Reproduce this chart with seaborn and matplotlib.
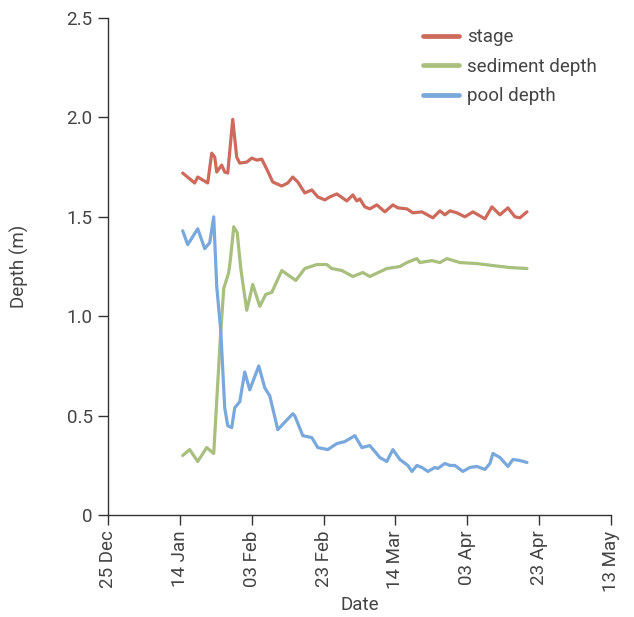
import matplotlib
matplotlib.use("Agg")
import matplotlib.pyplot as plt
import matplotlib.dates as mdates
import numpy as np
import pandas as pd
import seaborn as sns

# ---- data (days after 2016-01-14, depth in m) ----
start_date = "2016-01-14"

stage_day = [0.83, 4.17, 5.01, 7.79, 8.91, 9.74, 10.30, 11.69, 12.52, 13.36, 14.75, 15.86,
             16.70, 18.65, 20.04, 21.43, 22.82, 24.21, 25.88, 28.39, 30.06, 31.45, 32.84,
             34.79, 36.74, 38.41, 40.36, 41.75, 43.70, 46.48, 48.15, 49.26, 50.10, 51.49,
             52.88, 54.83, 57.06, 59.28, 60.67, 63.18, 64.85, 67.35, 70.41, 72.36, 73.75,
             75.15, 77.10, 79.32, 81.55, 84.89, 86.84, 89.06, 91.29, 93.24, 94.63, 96.58]
stage = [1.72, 1.67, 1.70, 1.67, 1.82, 1.80, 1.725, 1.76, 1.725, 1.72, 1.99, 1.80,
         1.77, 1.775, 1.795, 1.785, 1.79, 1.74, 1.675, 1.655, 1.67, 1.70, 1.675,
         1.62, 1.635, 1.60, 1.585, 1.60, 1.615, 1.58, 1.61, 1.58, 1.59, 1.55,
         1.54, 1.56, 1.525, 1.56, 1.545, 1.54, 1.52, 1.525, 1.495, 1.53, 1.51,
         1.53, 1.52, 1.50, 1.525, 1.49, 1.55, 1.51, 1.545, 1.50, 1.495, 1.525]

sediment_day = [0.83, 2.78, 5.01, 7.51, 9.46, 11.27, 12.25, 13.64, 14.19, 15.03, 16.00,
                16.98, 18.65, 20.32, 22.27, 23.94, 25.61, 28.39, 32.29, 34.79, 38.13,
                40.91, 42.30, 45.09, 48.15, 50.93, 52.88, 57.61, 61.23, 63.18, 65.96,
                66.80, 70.14, 72.36, 74.31, 77.93, 82.66, 87.12, 91.85, 96.58]
sediment = [0.30, 0.33, 0.27, 0.34, 0.31, 0.88, 1.14, 1.22, 1.30, 1.45, 1.42,
            1.24, 1.03, 1.16, 1.05, 1.11, 1.12, 1.23, 1.18, 1.24, 1.26,
            1.26, 1.24, 1.23, 1.20, 1.22, 1.20, 1.24, 1.25, 1.27, 1.29,
            1.27, 1.28, 1.27, 1.29, 1.27, 1.265, 1.255, 1.245, 1.24]

pool_day = [0.83, 2.23, 5.01, 6.96, 8.35, 9.46, 10.30, 11.41, 12.52, 13.36, 14.47, 15.31,
            16.70, 18.09, 19.48, 21.99, 23.66, 25.05, 27.28, 31.45, 32.01, 34.23, 36.74,
            38.41, 41.19, 43.70, 45.92, 48.71, 50.65, 52.88, 55.66, 57.61, 59.28, 61.23,
            63.46, 64.57, 65.96, 67.35, 69.02, 70.97, 71.81, 73.75, 75.15, 76.54, 78.76,
            80.71, 82.66, 84.89, 86.28, 87.12, 89.06, 91.29, 92.68, 94.63, 96.58]
pool = [1.43, 1.36, 1.44, 1.34, 1.37, 1.50, 1.15, 0.93, 0.54, 0.45, 0.44, 0.54,
        0.57, 0.72, 0.63, 0.75, 0.64, 0.60, 0.43, 0.51, 0.50, 0.40, 0.39,
        0.34, 0.33, 0.36, 0.37, 0.40, 0.34, 0.35, 0.29, 0.27, 0.33, 0.28,
        0.25, 0.22, 0.25, 0.24, 0.22, 0.24, 0.235, 0.26, 0.25, 0.25, 0.22,
        0.24, 0.245, 0.23, 0.26, 0.31, 0.29, 0.245, 0.28, 0.275, 0.265]

series_names = ["stage", "sediment depth", "pool depth"]
colors = ["#cd6a5b", "#a8bf7e", "#79a8dc"]

x_ticks = ["2015-12-25", "2016-01-14", "2016-02-03", "2016-02-23",
           "2016-03-14", "2016-04-03", "2016-04-23", "2016-05-13"]
y_ticks = [0, 0.5, 1.0, 1.5, 2.0, 2.5]
y_ticklabels = ["0", "0.5", "1.0", "1.5", "2.0", "2.5"]

# ---- build long table ----
t0 = pd.Timestamp(start_date)
frames = []
for name, days, vals in zip(series_names, [stage_day, sediment_day, pool_day],
                            [stage, sediment, pool]):
    frames.append(pd.DataFrame({
        "Date": t0 + pd.to_timedelta(days, unit="D"),
        "Depth (m)": vals,
        "series": name,
    }))
df = pd.concat(frames, ignore_index=True)

sns.set_theme(style="ticks")
font_list = ["Roboto", "DejaVu Sans"]
plt.rcParams["font.family"] = font_list
text_color = "#444444"
plt.rcParams["text.color"] = text_color
plt.rcParams["axes.labelcolor"] = text_color
plt.rcParams["xtick.color"] = "#333333"
plt.rcParams["ytick.color"] = "#333333"
plt.rcParams["xtick.labelcolor"] = text_color
plt.rcParams["ytick.labelcolor"] = text_color

fig = plt.figure(figsize=(6.34, 6.17), dpi=100)
ax = fig.add_axes([0.170, 0.165, 0.794, 0.806])

sns.lineplot(data=df, x="Date", y="Depth (m)", hue="series",
             hue_order=series_names, palette=colors, estimator=None,
             linewidth=2.3, ax=ax)
for ln in ax.get_lines():
    ln.set_solid_joinstyle("round")
    ln.set_solid_capstyle("round")

ax.set_xlim(pd.Timestamp(x_ticks[0]), pd.Timestamp(x_ticks[-1]))
ax.set_ylim(0, 2.5)
ax.set_xticks([pd.Timestamp(t) for t in x_ticks])
ax.xaxis.set_major_formatter(mdates.DateFormatter("%d %b"))
ax.set_yticks(y_ticks)
ax.set_yticklabels(y_ticklabels)
ax.tick_params(axis="x", labelrotation=90, labelsize=13.5, length=7, width=1, pad=4)
ax.tick_params(axis="y", labelsize=13.5, length=7, width=1, pad=4)
for s in ["left", "bottom"]:
    ax.spines[s].set_color("#333333")
    ax.spines[s].set_linewidth(1)
sns.despine(ax=ax)
ax.set_xlabel("Date", fontsize=13.5, labelpad=3)
ax.set_ylabel("Depth (m)", fontsize=13.5, labelpad=27)

leg = ax.legend(loc="upper right", bbox_to_anchor=(0.992, 1.0), frameon=False,
                fontsize=13.5, handlelength=1.9, handletextpad=0.45,
                labelspacing=0.62, borderaxespad=0.15)
for line in leg.get_lines():
    line.set_linewidth(3.4)

fig.savefig("out.png", dpi=100)
